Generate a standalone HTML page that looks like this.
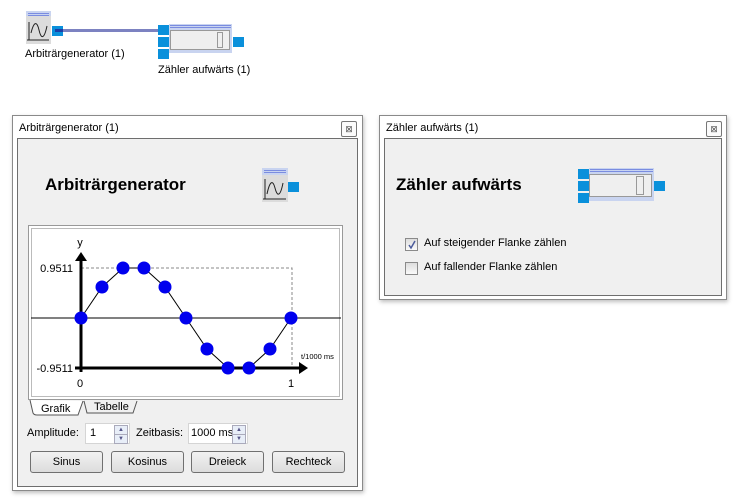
<!DOCTYPE html>
<html><head><meta charset="utf-8"><style>
body{margin:0;width:740px;height:499px;background:#fff;position:relative;overflow:hidden;font-family:"Liberation Sans",sans-serif;font-size:11px;color:#000}
.a{position:absolute}
.win{position:absolute;background:#fff;border:1px solid #8a8a8a;box-shadow:1px 2px 4px rgba(0,0,0,.25)}
.panel{position:absolute;background:#f0f0f0;border:1px solid #6e6e6e}
.close{position:absolute;width:14px;height:14px;border:1px solid #777;border-radius:2px;background:#fbfbfb;font-size:9px;line-height:14px;text-align:center;color:#555}
.port{position:absolute;background:#0a90db}
.btn{position:absolute;height:20px;border:1px solid #707070;border-radius:3px;background:linear-gradient(#f2f2f2,#dcdcdc);text-align:center;line-height:20px;font-size:11px}
.spin{position:absolute;height:19px;background:#fff;border:1px solid #d5d5d5;line-height:19px}
.sb{position:absolute;right:1px;width:12px;height:8px;border:1px solid #aab;background:#e8eef8;font-size:6px;line-height:8px;text-align:center;color:#558}
.cb{position:absolute;width:11px;height:11px;border:1px solid #8a8a8a;background:linear-gradient(#ddd,#fafafa)}
</style></head><body>

<!-- top diagram -->
<div class="a" style="left:26px;top:11px;width:25px;height:33px;background:#dcdcdc"></div>
<div class="a" style="left:26px;top:11px;width:25px;height:5px;background:#c9d4f0"></div>
<div class="a" style="left:28px;top:13px;width:21px;height:1px;background:#7a8ce0"></div>
<div class="a" style="left:28px;top:15px;width:21px;height:1px;background:#7a8ce0"></div>
<svg class="a" style="left:26px;top:16px" width="25" height="28"><path d="M3 6V24M1 24H23" stroke="#222" stroke-width="1" fill="none"/><path d="M5 17 C8 5 11 5 13 14 S18 24 21 10" stroke="#222" fill="none"/></svg>
<div class="port" style="left:52px;top:26px;width:11px;height:10px"></div>
<div class="a" style="left:55px;top:29px;width:113px;height:3px;background:#7c82c1"></div>
<div class="a" style="left:55px;top:29px;width:8px;height:3px;background:#1a3fa8"></div>
<div class="a" style="left:25px;top:48px">Arbiträrgenerator (1)</div>

<div class="a" style="left:169px;top:24px;width:63px;height:29px;background:#c9d4f0"></div>
<div class="a" style="left:170px;top:25px;width:61px;height:1px;background:#7a8ce0"></div>
<div class="a" style="left:170px;top:27px;width:61px;height:1px;background:#7a8ce0"></div>
<div class="a" style="left:170px;top:30px;width:60px;height:20px;background:#efefef;border:1px solid #999;box-sizing:border-box"></div>
<div class="a" style="left:217px;top:32px;width:6px;height:16px;border:1px solid #999;box-sizing:border-box"></div>
<div class="port" style="left:158px;top:25px;width:11px;height:10px"></div>
<div class="port" style="left:158px;top:37px;width:11px;height:10px"></div>
<div class="port" style="left:158px;top:49px;width:11px;height:10px"></div>
<div class="port" style="left:233px;top:37px;width:11px;height:10px"></div>
<div class="a" style="left:158px;top:64px">Zähler aufwärts (1)</div>

<!-- left window -->
<div class="win" style="left:12px;top:115px;width:349px;height:374px">
 <div class="a" style="left:6px;top:6px">Arbiträrgenerator (1)</div>
 <div class="close" style="left:328px;top:5px">⊠</div>
 <div class="panel" style="left:4px;top:22px;width:339px;height:347px"></div>
</div>
<div class="a" style="left:45px;top:175px;font-size:17px;font-weight:bold">Arbiträrgenerator</div>
<div class="a" style="left:262px;top:168px;width:26px;height:34px;background:#dcdcdc"></div>
<div class="a" style="left:262px;top:168px;width:26px;height:7px;background:#c9d4f0"></div>
<div class="a" style="left:264px;top:170px;width:22px;height:1px;background:#7a8ce0"></div>
<div class="a" style="left:264px;top:172px;width:22px;height:1px;background:#7a8ce0"></div>
<svg class="a" style="left:262px;top:175px" width="26" height="27"><path d="M3 4V24M1 24H24" stroke="#222" fill="none"/><path d="M5 19 C8 5 11 5 13 13 S18 23 21 8" stroke="#222" fill="none"/></svg>
<div class="port" style="left:288px;top:182px;width:11px;height:10px"></div>

<div class="a" style="left:28px;top:225px;width:313px;height:173px;border:1px solid #999;background:#fff;box-shadow:inset 0 0 0 2px #fff,inset 0 0 0 3px #bbb"></div>
<svg class="a" style="left:0;top:0" width="740" height="499">
 <line x1="31" y1="318" x2="341" y2="318" stroke="#000" stroke-width="1"/>
 <path d="M81 268H292V368" stroke="#888" stroke-dasharray="3,2" fill="none"/>
 <line x1="81" y1="372" x2="81" y2="258" stroke="#000" stroke-width="3"/>
 <polygon points="81,252 75,261 87,261" fill="#000"/>
 <line x1="75" y1="368" x2="302" y2="368" stroke="#000" stroke-width="3"/>
 <polygon points="308,368 299,362 299,374" fill="#000"/>
 <polyline points="81,318 102,287 123,268 144,268 165,287 186,318 207,349 228,368 249,368 270,349 291,318" fill="none" stroke="#000" stroke-width="1"/>
 <g fill="#0000ee">
 <circle cx="81" cy="318" r="6.5"/><circle cx="102" cy="287" r="6.5"/><circle cx="123" cy="268" r="6.5"/><circle cx="144" cy="268" r="6.5"/><circle cx="165" cy="287" r="6.5"/><circle cx="186" cy="318" r="6.5"/><circle cx="207" cy="349" r="6.5"/><circle cx="228" cy="368" r="6.5"/><circle cx="249" cy="368" r="6.5"/><circle cx="270" cy="349" r="6.5"/><circle cx="291" cy="318" r="6.5"/>
 </g>
 <g font-family="Liberation Sans,sans-serif" font-size="11" fill="#000">
 <text x="73" y="272" text-anchor="end">0.9511</text>
 <text x="73" y="372" text-anchor="end">-0.9511</text>
 <text x="80" y="246" text-anchor="middle">y</text>
 <text x="80" y="387" text-anchor="middle">0</text>
 <text x="291" y="387" text-anchor="middle">1</text>
 <text x="301" y="359" font-size="7.5">t/1000 ms</text>
 </g>
 <path d="M30 400 L33 413 Q34 415 37 415 L78 415 L83 401" fill="#fff" stroke="#555"/>
 <path d="M84 401 L87 413 L133 413 L137 401" fill="#f0f0f0" stroke="#555"/>
</svg>
<div class="a" style="left:41px;top:403px">Grafik</div>
<div class="a" style="left:94px;top:401px">Tabelle</div>

<div class="a" style="left:27px;top:427px">Amplitude:</div>
<div class="spin" style="left:85px;top:423px;width:43px"><span style="margin-left:4px">1</span><div class="sb" style="top:1px">▲</div><div class="sb" style="top:10px">▼</div></div>
<div class="a" style="left:136px;top:427px">Zeitbasis:</div>
<div class="spin" style="left:188px;top:423px;width:58px"><span style="margin-left:2px">1000 ms</span><div class="sb" style="top:1px">▲</div><div class="sb" style="top:10px">▼</div></div>

<div class="btn" style="left:30px;top:451px;width:71px">Sinus</div>
<div class="btn" style="left:111px;top:451px;width:71px">Kosinus</div>
<div class="btn" style="left:191px;top:451px;width:71px">Dreieck</div>
<div class="btn" style="left:272px;top:451px;width:71px">Rechteck</div>

<!-- right window -->
<div class="win" style="left:379px;top:115px;width:346px;height:183px">
 <div class="a" style="left:6px;top:6px">Zähler aufwärts (1)</div>
 <div class="close" style="left:326px;top:5px">⊠</div>
 <div class="panel" style="left:4px;top:22px;width:336px;height:156px"></div>
</div>
<div class="a" style="left:396px;top:175px;font-size:17px;font-weight:bold">Zähler aufwärts</div>
<div class="a" style="left:589px;top:168px;width:65px;height:33px;background:#c9d4f0"></div>
<div class="a" style="left:590px;top:169px;width:63px;height:1px;background:#7a8ce0"></div>
<div class="a" style="left:590px;top:171px;width:63px;height:1px;background:#7a8ce0"></div>
<div class="a" style="left:589px;top:174px;width:63px;height:23px;background:#efefef;border:1px solid #999;box-sizing:border-box"></div>
<div class="a" style="left:636px;top:176px;width:8px;height:19px;border:1px solid #999;box-sizing:border-box"></div>
<div class="port" style="left:578px;top:169px;width:11px;height:10px"></div>
<div class="port" style="left:578px;top:181px;width:11px;height:10px"></div>
<div class="port" style="left:578px;top:193px;width:11px;height:10px"></div>
<div class="port" style="left:654px;top:181px;width:11px;height:10px"></div>

<div class="cb" style="left:405px;top:238px"><svg class="a" style="left:1px;top:1px" width="10" height="10"><path d="M2 5 L4 8 L8 1" stroke="#4a5a9a" stroke-width="1.5" fill="none"/></svg></div>
<div class="a" style="left:424px;top:237px">Auf steigender Flanke zählen</div>
<div class="cb" style="left:405px;top:262px"></div>
<div class="a" style="left:424px;top:261px">Auf fallender Flanke zählen</div>
</body></html>
